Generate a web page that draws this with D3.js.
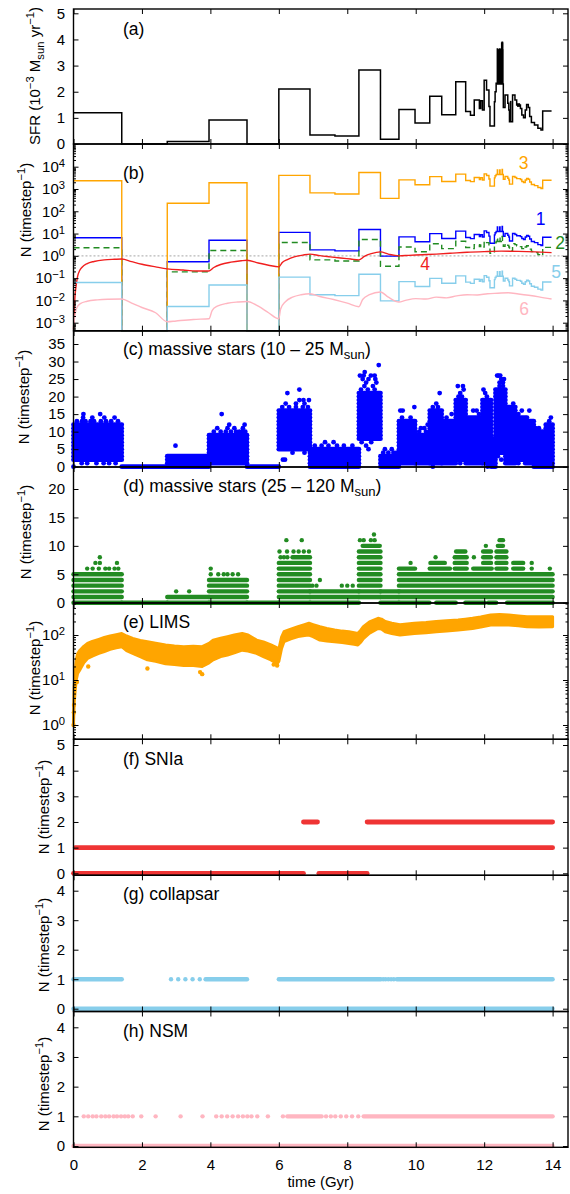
<!DOCTYPE html>
<html>
<head>
<meta charset="utf-8">
<script src="https://cdn.jsdelivr.net/npm/d3@7"></script>
<style>
  body { margin: 0; background: #fff; }
  svg { display: block; }
</style>
</head>
<body>
<div id="container"></div>
<script>

// ---------- data ----------

// Step times shared by the SFR and the star-count series (Gyr).
const stepT = [0, 1.41, 2.74, 3.96, 5.07, 6.0, 6.91, 7.64, 8.34, 8.97,
  9.51, 9.98, 10.41, 10.76, 11.17, 11.46, 11.6, 11.71, 11.86, 11.9,
  11.95, 12.0, 12.07, 12.14, 12.17, 12.3, 12.32, 12.35, 12.385, 12.395,
  12.455, 12.465, 12.525, 12.535, 12.545, 12.56, 12.61, 12.69, 12.72, 12.74,
  12.83, 12.9, 12.95, 13.06, 13.1, 13.15, 13.2, 13.24, 13.29, 13.33,
  13.38, 13.47, 13.57, 13.66, 13.71, 13.97];

// (a) star formation rate, 10^-3 Msun/yr
const sfr = [1.2, 0, 0.1, 0.92, 0, 2.1, 0.345, 0.31, 2.83, 0.18,
  1.32, 0.8, 1.83, 1.12, 2.38, 1.24, 1.1, 1.68, 1.36, 1.65,
  1.3, 2.44, 2.07, 1.43, 0.69, 1.62, 2.0, 2.32, 3.63, 2.3,
  3.63, 2.3, 3.89, 2.3, 2.3, 1.4, 1.87, 1.56, 1.3, 0.85,
  1.87, 1.68, 1.49, 1.36, 1.11, 1.0, 1.3, 1.51, 1.4, 1.05,
  0.82, 0.73, 0.6, 0.54, 1.26, 1.26];
// filled (unresolved) bursts in (a): [t0, t1, lo, hi]
const sfrBurst = [[12.38, 12.56, 2.3, 3.63], [12.49, 12.56, 2.3, 3.89],
  [12.75, 12.8, 0.85, 1.65], [12.96, 13.05, 1.42, 1.56]];

// (b) numbers per timestep, series 1, 2, 3, 5 (steps)
const n1 = [6.5, 0, 0.54, 5.0, 0, 11.3, 1.86, 1.67, 15.3, 0.97,
  7.1, 4.3, 9.9, 6.0, 12.9, 6.7, 5.9, 9.1, 7.3, 8.9,
  7.0, 13.2, 11.2, 7.7, 3.7, 8.7, 10.8, 12.5, 19.6, 12.4,
  19.6, 12.4, 21.0, 12.4, 12.4, 7.6, 10.1, 8.4, 7.0, 4.6,
  10.1, 9.1, 8.0, 7.3, 6.0, 5.4, 7.0, 8.2, 7.6, 5.7,
  4.4, 3.9, 3.2, 2.9, 6.8, 6.8];
const n2 = [2.3, 0, 0.19, 1.75, 0, 4.0, 0.66, 0.59, 5.4, 0.34,
  2.5, 1.52, 3.5, 2.1, 4.5, 2.36, 2.1, 3.2, 2.6, 3.1,
  2.5, 4.6, 3.9, 2.7, 1.31, 3.1, 3.8, 4.4, 6.9, 4.4,
  6.9, 4.4, 7.4, 4.4, 4.4, 2.7, 3.55, 2.96, 2.5, 1.6,
  3.55, 3.2, 2.83, 2.6, 2.1, 1.9, 2.5, 2.87, 2.66, 2.0,
  1.56, 1.39, 1.14, 1.03, 2.4, 2.4];
const n3 = [2340, 0, 230, 1900, 0, 4100, 670, 600, 5500, 380,
  2570, 1560, 3570, 2180, 4640, 2420, 2150, 3280, 2650, 3220,
  2540, 4760, 4040, 2790, 1350, 3160, 3900, 4520, 7080, 4490,
  7080, 4490, 7590, 4490, 4490, 2730, 3650, 3040, 2540, 1660,
  3650, 3280, 2910, 2650, 2160, 1950, 2540, 2940, 2730, 2050,
  1600, 1420, 1170, 1050, 2460, 2460];
const n5 = [0.064, 0, 0.0053, 0.049, 0, 0.111, 0.018, 0.0164, 0.15, 0.0095,
  0.07, 0.042, 0.097, 0.059, 0.126, 0.066, 0.058, 0.089, 0.072, 0.087,
  0.069, 0.129, 0.11, 0.076, 0.037, 0.086, 0.106, 0.123, 0.192, 0.122,
  0.192, 0.122, 0.206, 0.122, 0.122, 0.074, 0.099, 0.083, 0.069, 0.045,
  0.099, 0.089, 0.079, 0.072, 0.059, 0.053, 0.069, 0.08, 0.074, 0.056,
  0.043, 0.039, 0.032, 0.029, 0.067, 0.067];

// (b) smooth series 4 and 6: [t, N]
const n4 = [[0.0, 0.0005], [0.02, 0.003], [0.05, 0.02], [0.08, 0.05], [0.12, 0.12],
  [0.18, 0.22], [0.25, 0.31], [0.4, 0.45], [0.6, 0.56], [0.9, 0.66], [1.2, 0.7],
  [1.41, 0.72], [1.7, 0.55], [2.0, 0.42], [2.4, 0.32], [2.74, 0.26], [3.2, 0.23],
  [3.6, 0.21], [3.96, 0.21], [4.1, 0.3], [4.3, 0.41], [4.6, 0.52], [4.9, 0.6],
  [5.07, 0.63], [5.4, 0.48], [5.7, 0.38], [6.0, 0.32], [6.1, 0.5], [6.25, 0.68],
  [6.45, 0.9], [6.7, 1.08], [6.91, 1.2], [7.2, 1.02], [7.5, 0.9], [7.8, 0.8],
  [8.1, 0.72], [8.34, 0.66], [8.5, 0.95], [8.7, 1.25], [8.97, 1.5], [9.2, 1.2],
  [9.51, 1.0], [9.8, 1.05], [10.2, 1.12], [10.6, 1.2], [11.0, 1.3], [11.5, 1.45],
  [12.0, 1.55], [12.5, 1.62], [13.0, 1.58], [13.5, 1.5], [13.97, 1.4]];
const n6 = [[0.0, 0.0005], [0.03, 0.0015], [0.06, 0.003], [0.1, 0.0048], [0.2, 0.0072],
  [0.4, 0.0092], [0.7, 0.0106], [1.0, 0.0113], [1.41, 0.0116], [1.7, 0.0075],
  [2.0, 0.0048], [2.4, 0.0028], [2.74, 0.0011], [3.0, 0.0012], [3.5, 0.0014],
  [3.96, 0.0015], [4.05, 0.0035], [4.2, 0.0055], [4.5, 0.0075], [4.8, 0.0085],
  [5.07, 0.009], [5.4, 0.0055], [5.7, 0.0028], [6.0, 0.0015], [6.05, 0.004],
  [6.2, 0.009], [6.4, 0.014], [6.65, 0.018], [6.91, 0.02], [7.2, 0.015],
  [7.6, 0.011], [8.0, 0.0075], [8.34, 0.0052], [8.45, 0.011], [8.65, 0.018],
  [8.97, 0.024], [9.2, 0.014], [9.51, 0.0085], [9.7, 0.01], [10.0, 0.012],
  [10.3, 0.0115], [10.6, 0.014], [10.9, 0.013], [11.2, 0.016], [11.5, 0.018],
  [11.8, 0.0175], [12.1, 0.02], [12.4, 0.021], [12.7, 0.022], [13.0, 0.0195],
  [13.3, 0.017], [13.6, 0.0145], [13.97, 0.0115]];

// (c) massive stars 10-25 Msun: dense blocks [t0, t1, lowest N, highest N] and single points [t, N]
const cBlocks = [[0.0, 1.41, 2, 12], [1.41, 2.74, 0, 0], [2.74, 3.96, 0, 3], [3.96, 5.07, 1, 9],
  [5.07, 6.0, 0, 0], [6.0, 6.91, 5, 16], [6.91, 8.34, 0, 5], [8.34, 8.97, 8, 21],
  [8.97, 9.51, 0, 3], [9.51, 9.98, 1, 13], [9.98, 10.41, 1, 9], [10.41, 10.76, 1, 16],
  [10.76, 11.17, 1, 13], [11.17, 11.46, 2, 19], [11.46, 11.95, 1, 14], [11.95, 12.2, 1, 19],
  [12.2, 12.33, 0, 8], [12.33, 12.62, 4, 22], [12.62, 12.91, 1, 17], [12.91, 13.2, 2, 14],
  [13.2, 13.45, 1, 13], [13.45, 13.8, 0, 10], [13.8, 14.0, 0, 12]];
const cPoints = [[0.24, 1], [0.4, 1], [0.67, 1], [0.88, 1], [1.04, 1], [1.23, 1], [0.0, 0],
  [0.1, 13], [0.25, 13], [0.35, 13], [0.5, 13], [0.6, 13], [0.8, 13], [0.95, 13], [1.1, 13], [1.3, 13],
  [0.28, 14], [0.55, 14], [0.9, 14], [1.2, 14], [0.29, 15], [0.78, 15], [2.98, 6],
  [4.1, 10], [4.3, 10], [4.45, 10], [4.6, 10], [4.75, 10], [4.85, 10], [4.95, 10], [5.02, 10],
  [4.2, 11], [4.5, 11], [4.7, 11], [4.95, 11], [4.55, 12], [5.0, 12], [4.33, 15],
  [6.1, 17], [6.3, 17], [6.5, 17], [6.7, 17], [6.85, 17], [6.2, 18], [6.5, 18], [6.75, 18],
  [6.6, 19], [6.72, 19], [6.88, 19], [6.25, 21], [6.6, 22], [6.4, 4], [6.75, 4], [6.12, 2], [6.18, 2],
  [7.05, 6], [7.25, 6], [7.45, 6], [7.7, 6], [7.9, 6], [8.15, 6], [7.35, 7], [7.6, 7],
  [8.4, 22], [8.6, 22], [8.8, 22], [8.5, 23], [8.75, 23], [8.55, 24], [8.85, 24], [8.45, 25],
  [8.62, 25], [8.82, 25], [8.37, 26], [8.48, 26], [8.69, 26], [8.8, 26], [8.51, 27], [8.92, 29],
  [8.42, 7], [8.7, 7], [8.55, 6], [8.62, 5], [9.05, 4], [9.2, 4], [9.35, 4], [9.45, 4], [9.1, 5], [9.3, 5],
  [9.6, 14], [9.85, 14], [9.55, 16], [9.62, 16], [9.96, 17], [10.1, 10], [10.3, 10], [10.15, 11],
  [10.25, 11], [10.35, 12], [10.5, 17], [10.65, 17], [10.6, 18], [10.7, 21], [10.5, 0],
  [10.9, 14], [11.05, 15], [11.25, 20], [11.35, 20], [11.3, 21], [11.4, 22], [11.23, 23], [11.38, 23],
  [11.3, 1], [11.68, 16], [11.78, 16], [11.85, 15], [11.98, 22], [12.03, 21], [12.08, 20], [12.1, 0],
  [12.45, 23], [12.55, 23], [12.45, 24], [12.55, 24], [12.5, 25], [12.58, 25], [12.38, 26],
  [12.42, 26], [12.47, 26], [12.4, 3], [12.5, 2], [12.85, 18], [12.9, 16], [13.1, 16], [13.0, 15],
  [13.0, 1], [13.32, 16], [13.25, 14], [13.5, 11], [13.6, 11], [13.95, 14], [13.9, 13]];

// (d) massive stars 25-120 Msun
const dBlocks = [[0.0, 1.41, 0, 5], [1.41, 2.74, 0, 0], [2.74, 3.96, 0, 1], [3.96, 5.07, 0, 4],
  [5.07, 6.0, 0, 0], [6.0, 6.91, 0, 7], [6.4, 6.91, 8, 8], [6.91, 8.34, 0, 2], [8.34, 8.97, 1, 9],
  [8.45, 8.95, 10, 10], [8.97, 9.51, 0, 2], [9.51, 14.0, 1, 5], [9.51, 10.4, 0, 0],
  [10.6, 11.17, 0, 0], [11.45, 12.02, 0, 0], [12.12, 12.35, 0, 0], [12.67, 14.0, 0, 0],
  [9.51, 9.98, 6, 6], [10.41, 11.0, 6, 6], [11.14, 11.49, 6, 8], [11.68, 12.22, 6, 6],
  [11.97, 12.2, 7, 9], [12.36, 12.65, 6, 9], [12.4, 12.55, 10, 10], [12.45, 12.55, 11, 11],
  [12.85, 13.14, 6, 7], [10.43, 10.85, 7, 7], [11.18, 11.45, 9, 9]];
const dPoints = [[0.4, 6], [0.56, 6], [0.74, 6], [0.93, 6], [1.04, 6], [1.2, 6], [1.31, 6],
  [0.64, 7], [0.77, 7], [1.27, 7], [0.77, 8], [3.0, 2], [3.38, 2],
  [4.01, 5], [4.23, 5], [4.39, 5], [4.5, 5], [4.65, 5], [4.81, 5], [4.01, 6],
  [6.05, 8], [6.15, 8], [6.25, 8], [6.02, 9], [6.24, 9], [6.43, 9], [6.58, 9], [6.73, 9], [6.88, 9],
  [6.22, 11], [6.67, 11], [6.98, 3], [7.1, 3], [7.2, 4], [7.84, 3], [8.0, 3], [8.16, 3],
  [8.37, 11], [8.48, 11], [8.69, 11], [8.8, 11], [8.78, 12],
  [13.39, 6], [13.92, 6], [9.85, 7], [13.39, 7], [10.58, 8], [11.7, 8], [12.05, 10]];

// (e) LIMS: envelope of the point cloud [t, low, high] and stray points
const eBand = [[0.0, 1.0, 1.2], [0.02, 3, 7], [0.05, 6, 16], [0.08, 10, 28], [0.12, 14, 38],
  [0.19, 17, 46], [0.3, 24, 56], [0.41, 30, 65], [0.55, 34, 72], [0.74, 39, 80], [0.9, 43, 88],
  [1.07, 48, 95], [1.25, 52, 102], [1.41, 55, 108], [1.55, 45, 95], [1.73, 39, 84], [1.95, 33, 76],
  [2.16, 28, 71], [2.4, 26, 66], [2.69, 23, 60], [2.95, 22, 57], [3.22, 21, 55], [3.5, 21, 56],
  [3.76, 20, 55], [3.96, 24, 65], [4.08, 28, 77], [4.3, 33, 85], [4.5, 36, 92], [4.7, 40, 100],
  [4.93, 46, 108], [5.1, 44, 100], [5.35, 39, 77], [5.55, 33, 70], [5.77, 28, 60], [5.95, 23, 52],
  [6.0, 26, 48], [6.08, 50, 90], [6.15, 71, 118], [6.35, 82, 135], [6.56, 92, 153], [6.75, 97, 170],
  [6.88, 100, 182], [7.0, 92, 170], [7.2, 77, 153], [7.4, 74, 140], [7.63, 71, 129], [7.85, 68, 122],
  [8.05, 65, 118], [8.2, 62, 112], [8.31, 60, 108], [8.4, 70, 130], [8.47, 83, 153], [8.65, 110, 195],
  [8.9, 140, 235], [9.0, 135, 225], [9.11, 118, 200], [9.3, 108, 182], [9.54, 100, 170],
  [9.75, 104, 176], [9.96, 108, 182], [10.3, 112, 190], [10.6, 118, 200], [10.9, 122, 208],
  [11.24, 129, 215], [11.45, 134, 225], [11.66, 140, 235], [11.9, 150, 250], [12.19, 167, 278],
  [12.45, 170, 285], [12.72, 167, 278], [13.0, 160, 265], [13.25, 153, 255], [13.6, 150, 255],
  [14.0, 153, 255]];
const ePoints = [[0.0, 1.0], [0.01, 1.9], [0.015, 2.8], [0.1, 9], [0.43, 20], [2.16, 18],
  [3.7, 15], [3.76, 13.5], [5.85, 22], [5.95, 21]];

// (f) SNIa, (g) collapsar, (h) NSM: rows [t0, t1, N, N] and single points
const fBlocks = [[0.0, 6.72, 0, 0], [7.17, 8.58, 0, 0], [0.05, 14.0, 1, 1], [6.72, 7.13, 2, 2], [8.58, 14.0, 2, 2]];
const gBlocks = [[0.0, 14.0, 0, 0], [0.0, 1.41, 1, 1], [3.86, 5.07, 1, 1], [6.0, 8.98, 1, 1], [9.45, 14.0, 1, 1]];
const gPoints = [[2.85, 1], [3.06, 1], [3.27, 1], [3.48, 1], [3.69, 1],
  [9.05, 1], [9.12, 1], [9.2, 1], [9.28, 1], [9.36, 1]];
const hBlocks = [[0.0, 14.0, 0, 0], [6.25, 7.2, 1, 1], [8.48, 14.0, 1, 1]];
const hPoints = [0.3, 0.43, 0.56, 0.67, 0.81, 0.93, 1.04, 1.17, 1.27, 1.39, 1.5, 1.6, 1.73,
  1.98, 2.4, 3.13, 3.77, 4.17, 4.33, 4.49, 4.65, 4.81, 4.95, 5.08, 5.2, 5.37, 5.68, 6.12,
  7.25, 7.38, 7.52, 7.65, 7.81, 7.97, 8.14, 8.32].map(t => [t, 1]);

// tick values
const xTicks = [0, 2, 4, 6, 8, 10, 12, 14];
const aTicks = [0, 1, 2, 3, 4, 5];
const bTicks = [1e-3, 1e-2, 1e-1, 1, 10, 100, 1e3, 1e4];
const cTicks = [0, 5, 10, 15, 20, 25, 30, 35];
const dTicks = [0, 5, 10, 15, 20];
const eTicks = [1, 10, 100];
const fTicks = [0, 1, 2, 3, 4, 5];
const gTicks = [0, 1, 2, 3, 4];
const hTicks = [0, 1, 2, 3, 4];

// ---------- layout ----------
const width = 570;
const height = 1194;
const FONT = '"Liberation Sans", Arial, Helvetica, sans-serif';
const tickFs = 15, titleFs = 15, labelFs = 17.5;

const left = 73.5, right = 568;

const x = d3.scaleLinear().domain([0, 14.45]).range([left, right]);

// y scales of the eight panels and their frames
const panels = {
  a: { top: 9, bottom: 144, y: d3.scaleLinear().domain([0, 5]).range([144, 13.3]), ticks: aTicks },
  b: { top: 144, bottom: 330.7, y: d3.scaleLog().domain([1e-3, 1e4]).range([322.7, 166.7]), ticks: bTicks, log: true },
  c: { top: 331, bottom: 467, y: d3.scaleLinear().domain([0, 35]).range([466.7, 344]), ticks: cTicks },
  d: { top: 467, bottom: 603, y: d3.scaleLinear().domain([0, 20]).range([602.7, 489]), ticks: dTicks },
  e: { top: 603, bottom: 739.3, y: d3.scaleLog().domain([1, 100]).range([725, 635]), ticks: eTicks, log: true },
  f: { top: 739.3, bottom: 875.3, y: d3.scaleLinear().domain([0, 5]).range([873.3, 745]), ticks: fTicks },
  g: { top: 875.3, bottom: 1011.5, y: d3.scaleLinear().domain([0, 4]).range([1008.7, 890.7]), ticks: gTicks },
  h: { top: 1011.5, bottom: 1147.3, y: d3.scaleLinear().domain([0, 4]).range([1146, 1027.3]), ticks: hTicks }
};

const svg = d3.create("svg")
    .attr("width", width)
    .attr("height", height)
    .attr("font-family", FONT);

container.append(svg.node());

// text with super/subscripts: parts = [[string, "", "sup" or "sub"], ...]
function rich(text, parts, fs) {
  let cur = 0;
  parts.forEach(([s, k]) => {
    const want = k === "sup" ? -0.42 * fs : k === "sub" ? 0.25 * fs : 0;
    text.append("tspan").attr("dy", want - cur).attr("font-size", k ? fs * 0.75 : fs).text(s);
    cur = want;
  });
}

// ---------- (a) SFR ----------
const pa = panels.a;
svg.append("g").selectAll("rect")
  .data(sfrBurst)
  .join("rect")
    .attr("x", d => x(d[0]))
    .attr("width", d => x(d[1]) - x(d[0]))
    .attr("y", d => pa.y(d[3]))
    .attr("height", d => pa.y(d[2]) - pa.y(d[3]))
    .attr("fill", "#000");

svg.append("path")
    .datum(stepT.map((t, i) => [t, sfr[i]]))
    .attr("fill", "none")
    .attr("stroke", "#000")
    .attr("stroke-width", 1.5)
    .attr("d", d3.line().curve(d3.curveStepAfter).x(d => x(d[0])).y(d => pa.y(d[1])));

// ---------- (b) numbers per timestep ----------
const pb = panels.b;
const bFloor = pb.y.invert(pb.bottom);
const by = v => pb.y(Math.max(v, bFloor));

svg.append("line")
    .attr("x1", left).attr("x2", right)
    .attr("y1", pb.y(1)).attr("y2", pb.y(1))
    .attr("stroke", "#b8b8b8").attr("stroke-width", 1.2).attr("stroke-dasharray", "2,2");

const stepLine = d3.line().curve(d3.curveStepAfter).x(d => x(d[0])).y(d => by(d[1]));
const smoothLine = d3.line().curve(d3.curveMonotoneX).x(d => x(d[0])).y(d => by(d[1]));

const bSeries = [
  { data: stepT.map((t, i) => [t, n1[i]]), color: "#0000ff", line: stepLine },
  { data: stepT.map((t, i) => [t, n2[i]]), color: "#228b22", line: stepLine, dash: "6,4" },
  { data: stepT.map((t, i) => [t, n3[i]]), color: "#ffa500", line: stepLine },
  { data: n4, color: "#f01e1e", line: smoothLine },
  { data: stepT.map((t, i) => [t, n5[i]]), color: "#87ceeb", line: stepLine },
  { data: n6, color: "#ffb6c1", line: smoothLine }
];
bSeries.forEach(s => {
  svg.append("path")
      .datum(s.data)
      .attr("fill", "none")
      .attr("stroke", s.color)
      .attr("stroke-width", 1.4)
      .attr("stroke-dasharray", s.dash || null)
      .attr("d", s.line);
});

// series numbers
const bNames = [["3", "#ffa500", 523.5, 169], ["1", "#0000ff", 540.5, 225], ["2", "#228b22", 560, 249],
  ["4", "#f01e1e", 425, 270], ["5", "#87ceeb", 556, 278], ["6", "#ffb6c1", 524, 315]];
svg.append("g").selectAll("text")
  .data(bNames)
  .join("text")
    .attr("x", d => d[2])
    .attr("y", d => d[3])
    .attr("text-anchor", "middle")
    .attr("font-size", labelFs)
    .attr("fill", d => d[1])
    .text(d => d[0]);

// ---------- scatter panels ----------
function scatter(p, blocks, points, color, w) {
  const rows = blocks.flatMap(([t0, t1, lo, hi]) => d3.range(lo, hi + 1).map(n => ({ t0, t1, n })));
  const g = svg.append("g");
  g.selectAll("line")
    .data(rows)
    .join("line")
      .attr("x1", d => x(d.t0))
      .attr("x2", d => x(d.t1))
      .attr("y1", d => p.y(d.n))
      .attr("y2", d => p.y(d.n))
      .attr("stroke", color)
      .attr("stroke-width", w)
      .attr("stroke-linecap", "round");
  g.selectAll("circle")
    .data(points)
    .join("circle")
      .attr("cx", d => x(d[0]))
      .attr("cy", d => p.y(d[1]))
      .attr("r", w / 2)
      .attr("fill", color);
}

scatter(panels.c, cBlocks, cPoints, "#0000ff", 4.8);
scatter(panels.d, dBlocks, dPoints, "#228b22", 4.4);

// (e) LIMS cloud
const pe = panels.e;
svg.append("path")
    .datum(eBand)
    .attr("fill", "#ffa500")
    .attr("stroke", "#ffa500")
    .attr("stroke-width", 3)
    .attr("stroke-linejoin", "round")
    .attr("d", d3.area().x(d => x(d[0])).y0(d => pe.y(d[1])).y1(d => pe.y(d[2])));
svg.append("g").selectAll("circle")
  .data(ePoints)
  .join("circle")
    .attr("cx", d => x(d[0]))
    .attr("cy", d => pe.y(d[1]))
    .attr("r", 2.2)
    .attr("fill", "#ffa500");

scatter(panels.f, fBlocks, [], "#ef3434", 4.8);
scatter(panels.g, gBlocks, gPoints, "#87ceeb", 4.4);
scatter(panels.h, hBlocks, hPoints, "#ffb6c1", 4.4);

// ---------- frames, ticks and labels ----------
Object.entries(panels).forEach(([key, p]) => {
  const g = svg.append("g");

  const vmin = p.y.invert(p.bottom), vmax = p.y.invert(p.top);
  const major = p.ticks.filter(v => v >= vmin && v <= vmax);

  const leftAxis = g.append("g")
      .attr("transform", `translate(${left},0)`)
      .call(d3.axisLeft(p.y).tickValues(major).tickSize(-5).tickPadding(8.5)
        .tickFormat(d => p.log ? "" : d));
  g.append("g")
      .attr("transform", `translate(${right},0)`)
      .call(d3.axisRight(p.y).tickValues(major).tickSize(-5).tickFormat(""));

  if (p.log) {
    const minor = [];
    for (let e = -5; e <= 5; e++) for (let m = 2; m <= 9; m++) minor.push(m * Math.pow(10, e));
    const mv = minor.filter(v => v > vmin && v < vmax);
    g.append("g").attr("transform", `translate(${left},0)`)
      .call(d3.axisLeft(p.y).tickValues(mv).tickSize(-2.5).tickFormat(""));
    g.append("g").attr("transform", `translate(${right},0)`)
      .call(d3.axisRight(p.y).tickValues(mv).tickSize(-2.5).tickFormat(""));
    leftAxis.selectAll(".tick text").each(function (d) {
      const ex = Math.round(Math.log10(d));
      const t = d3.select(this).text("10");
      t.append("tspan").attr("dy", "-0.45em").attr("font-size", tickFs * 0.75)
        .text(String(ex).replace("-", "\u2212"));
    });
  }

  const last = key === "h";
  g.append("g")
      .attr("transform", `translate(0,${p.bottom})`)
      .call(d3.axisBottom(x).tickValues(xTicks).tickSize(-5).tickPadding(12)
        .tickFormat(last ? d => d : ""));
  g.append("g")
      .attr("transform", `translate(0,${p.top})`)
      .call(d3.axisTop(x).tickValues(xTicks).tickSize(-5).tickFormat(""));

  g.selectAll(".domain").remove();
  g.selectAll("g").attr("font-size", tickFs).attr("font-family", FONT);
  g.selectAll(".tick line").attr("stroke-width", 1);

  g.append("rect")
      .attr("x", left).attr("y", p.top)
      .attr("width", right - left).attr("height", p.bottom - p.top)
      .attr("fill", "none").attr("stroke", "#000").attr("stroke-width", 1.4);
});

// y axis titles
const yTitles = [
  [40, 76, [["SFR (10", ""], ["\u22123", "sup"], [" M", ""], ["sun", "sub"], [" yr", ""], ["\u22121", "sup"], [")", ""]]],
  [31, 210, null], [29, 397, null], [31, 532, null], [40, 668, null],
  [49, 807, null], [49, 945, null], [49, 1084, null]
];
const nTitle = [["N (timestep", ""], ["\u22121", "sup"], [")", ""]];
yTitles.forEach(([tx, ty, parts]) => {
  const t = svg.append("text")
      .attr("transform", `translate(${tx},${ty}) rotate(-90)`)
      .attr("text-anchor", "middle")
      .attr("font-size", titleFs)
      .attr("fill", "#000");
  rich(t, parts || nTitle, titleFs);
});

// panel labels
const pLabels = [
  [35, [["(a)", ""]]],
  [179, [["(b)", ""]]],
  [355, [["(c) massive stars (10 \u2013 25 M", ""], ["sun", "sub"], [")", ""]]],
  [492, [["(d) massive stars (25 \u2013 120 M", ""], ["sun", "sub"], [")", ""]]],
  [628, [["(e) LIMS", ""]]],
  [765, [["(f) SNIa", ""]]],
  [900, [["(g) collapsar", ""]]],
  [1037, [["(h) NSM", ""]]]
];
pLabels.forEach(([ty, parts]) => {
  const t = svg.append("text")
      .attr("x", 123)
      .attr("y", ty)
      .attr("font-size", labelFs)
      .attr("fill", "#000");
  rich(t, parts, labelFs);
});

// x axis title
svg.append("text")
    .attr("x", (left + right) / 2)
    .attr("y", 1187)
    .attr("text-anchor", "middle")
    .attr("font-size", titleFs)
    .attr("fill", "#000")
    .text("time (Gyr)");

</script>
</body>
</html>
